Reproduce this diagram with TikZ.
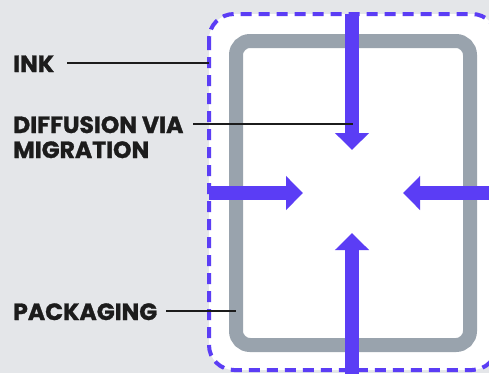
\documentclass[tikz,border=0pt]{standalone}
\usepackage{fontspec}
\setmainfont{Poppins}[BoldFeatures={FakeBold=1.2}]
\usetikzlibrary{arrows.meta}
\definecolor{bg}{HTML}{E4E6E9}
\definecolor{ink}{HTML}{5B3DF5}
\definecolor{pack}{HTML}{99A3AD}
\definecolor{txt}{HTML}{1C1C1C}
\tikzset{
  lbl/.style={anchor=base west, inner sep=0pt, font=\fontsize{23.5}{25}\selectfont\bfseries, text=txt},
  leader/.style={draw=txt, line width=2.2pt},
  flow/.style={draw=ink, line width=14pt, line cap=butt, -{Triangle[length=17pt,width=33pt]}},
}
\begin{document}
\begin{tikzpicture}[x=1pt,y=-1pt]
\useasboundingbox (0,0) rectangle (489,373);
\clip (0,0) rectangle (489,373);
\fill[bg] (0,0) rectangle (489,373);
% ink boundary
\draw[ink, fill=white, line width=4pt, dash pattern=on 11pt off 7pt, rounded corners=25pt] (209,14) rectangle (497,370);
% packaging
\draw[pack, fill=white, line width=14pt, rounded corners=14pt] (236,41) rectangle (470,345);
% arrows
\coordinate (tS) at (352,14);   \coordinate (tE) at (352,150);
\coordinate (bS) at (352,380);  \coordinate (bE) at (352,233);
\coordinate (lS) at (209,193);  \coordinate (lE) at (303,193);
\coordinate (rS) at (495,193);  \coordinate (rE) at (403,193);
\draw[flow] (tS) -- (tE);
\draw[flow] (bS) -- (bE);
\draw[flow] (lS) -- (lE);
\draw[flow] (rS) -- (rE);
% labels
\node[lbl] (ink) at (13,72) {INK};
\node[lbl] (diff) at (13,133) {DIFFUSION VIA};
\node[lbl] (mig) at (13,158) {MIGRATION};
\node[lbl] (pk) at (13,320) {PACKAGING};
\coordinate (inkA) at (67,63);   \coordinate (inkB) at (209,63);
\coordinate (difA) at (193,124); \coordinate (difB) at (353,124);
\coordinate (pkA) at (166,311);  \coordinate (pkB) at (236,311);
\draw[leader] (inkA) -- (inkB);
\draw[leader] (difA) -- (difB);
\draw[leader] (pkA) -- (pkB);
\end{tikzpicture}
\end{document}
